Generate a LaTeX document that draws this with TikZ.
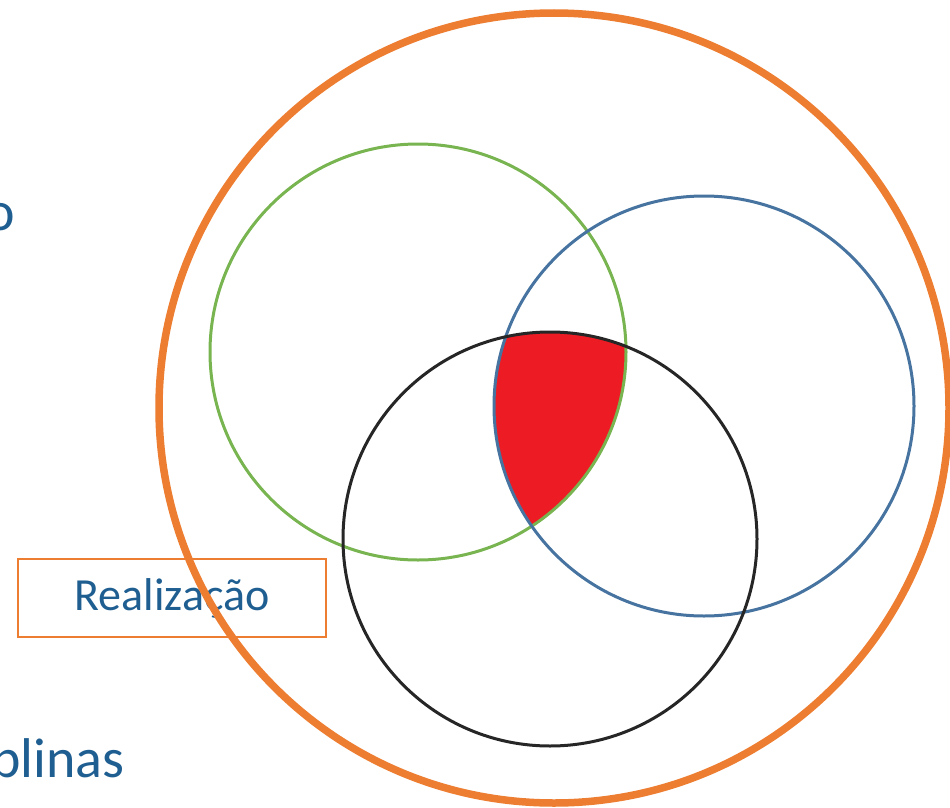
\documentclass[tikz,border=0pt]{standalone}
\usepackage{fontspec}
\setmainfont{Carlito}
\usepackage{xcolor}
\usepackage{tikz}

\definecolor{ringorange}{RGB}{237,125,49}
\definecolor{ringgreen}{RGB}{120,180,80}
\definecolor{ringblue}{RGB}{70,115,160}
\definecolor{textblue}{RGB}{31,94,145}
\definecolor{corered}{RGB}{237,28,36}

\begin{document}
\begin{tikzpicture}[x=1pt, y=-1pt,
      ring/.style={circle, draw, line width=3pt, inner sep=0pt, minimum size=#1},
      bluetext/.style={text=textblue, font=\fontsize{46}{55}\selectfont, inner sep=0pt},
      bigtext/.style={text=textblue, font=\fontsize{56}{67}\selectfont, inner sep=0pt},
      tagbox/.style={rectangle, draw=ringorange, line width=2pt, minimum width=308pt, minimum height=78pt, inner sep=0pt}
    ]
      \useasboundingbox (0,0) rectangle (950,808);

      % shared part of the three sets
      \begin{scope}
        \clip (418,352) circle[radius=208pt];
        \clip (704,406) circle[radius=210pt];
        \fill[corered] (550,539) circle[radius=207pt];
      \end{scope}

      \node[ring=416pt, draw=ringgreen] (green) at (418,352) {};
      \node[ring=420pt, draw=ringblue]  (blue)  at (704,406) {};
      \node[ring=414pt, draw=black!85]  (black) at (550,539) {};

      \node[bigtext, anchor=base east] (topword) at (15,230) {o};
      \node[bigtext, anchor=base east] (lowword) at (125,777) {plinas};
      \node[tagbox, bluetext] (realiz) at (172,598) {Realização};

      \node[ring=790pt, draw=ringorange, line width=7.5pt] (whole) at (554,408) {};
    \end{tikzpicture}
\end{document}
